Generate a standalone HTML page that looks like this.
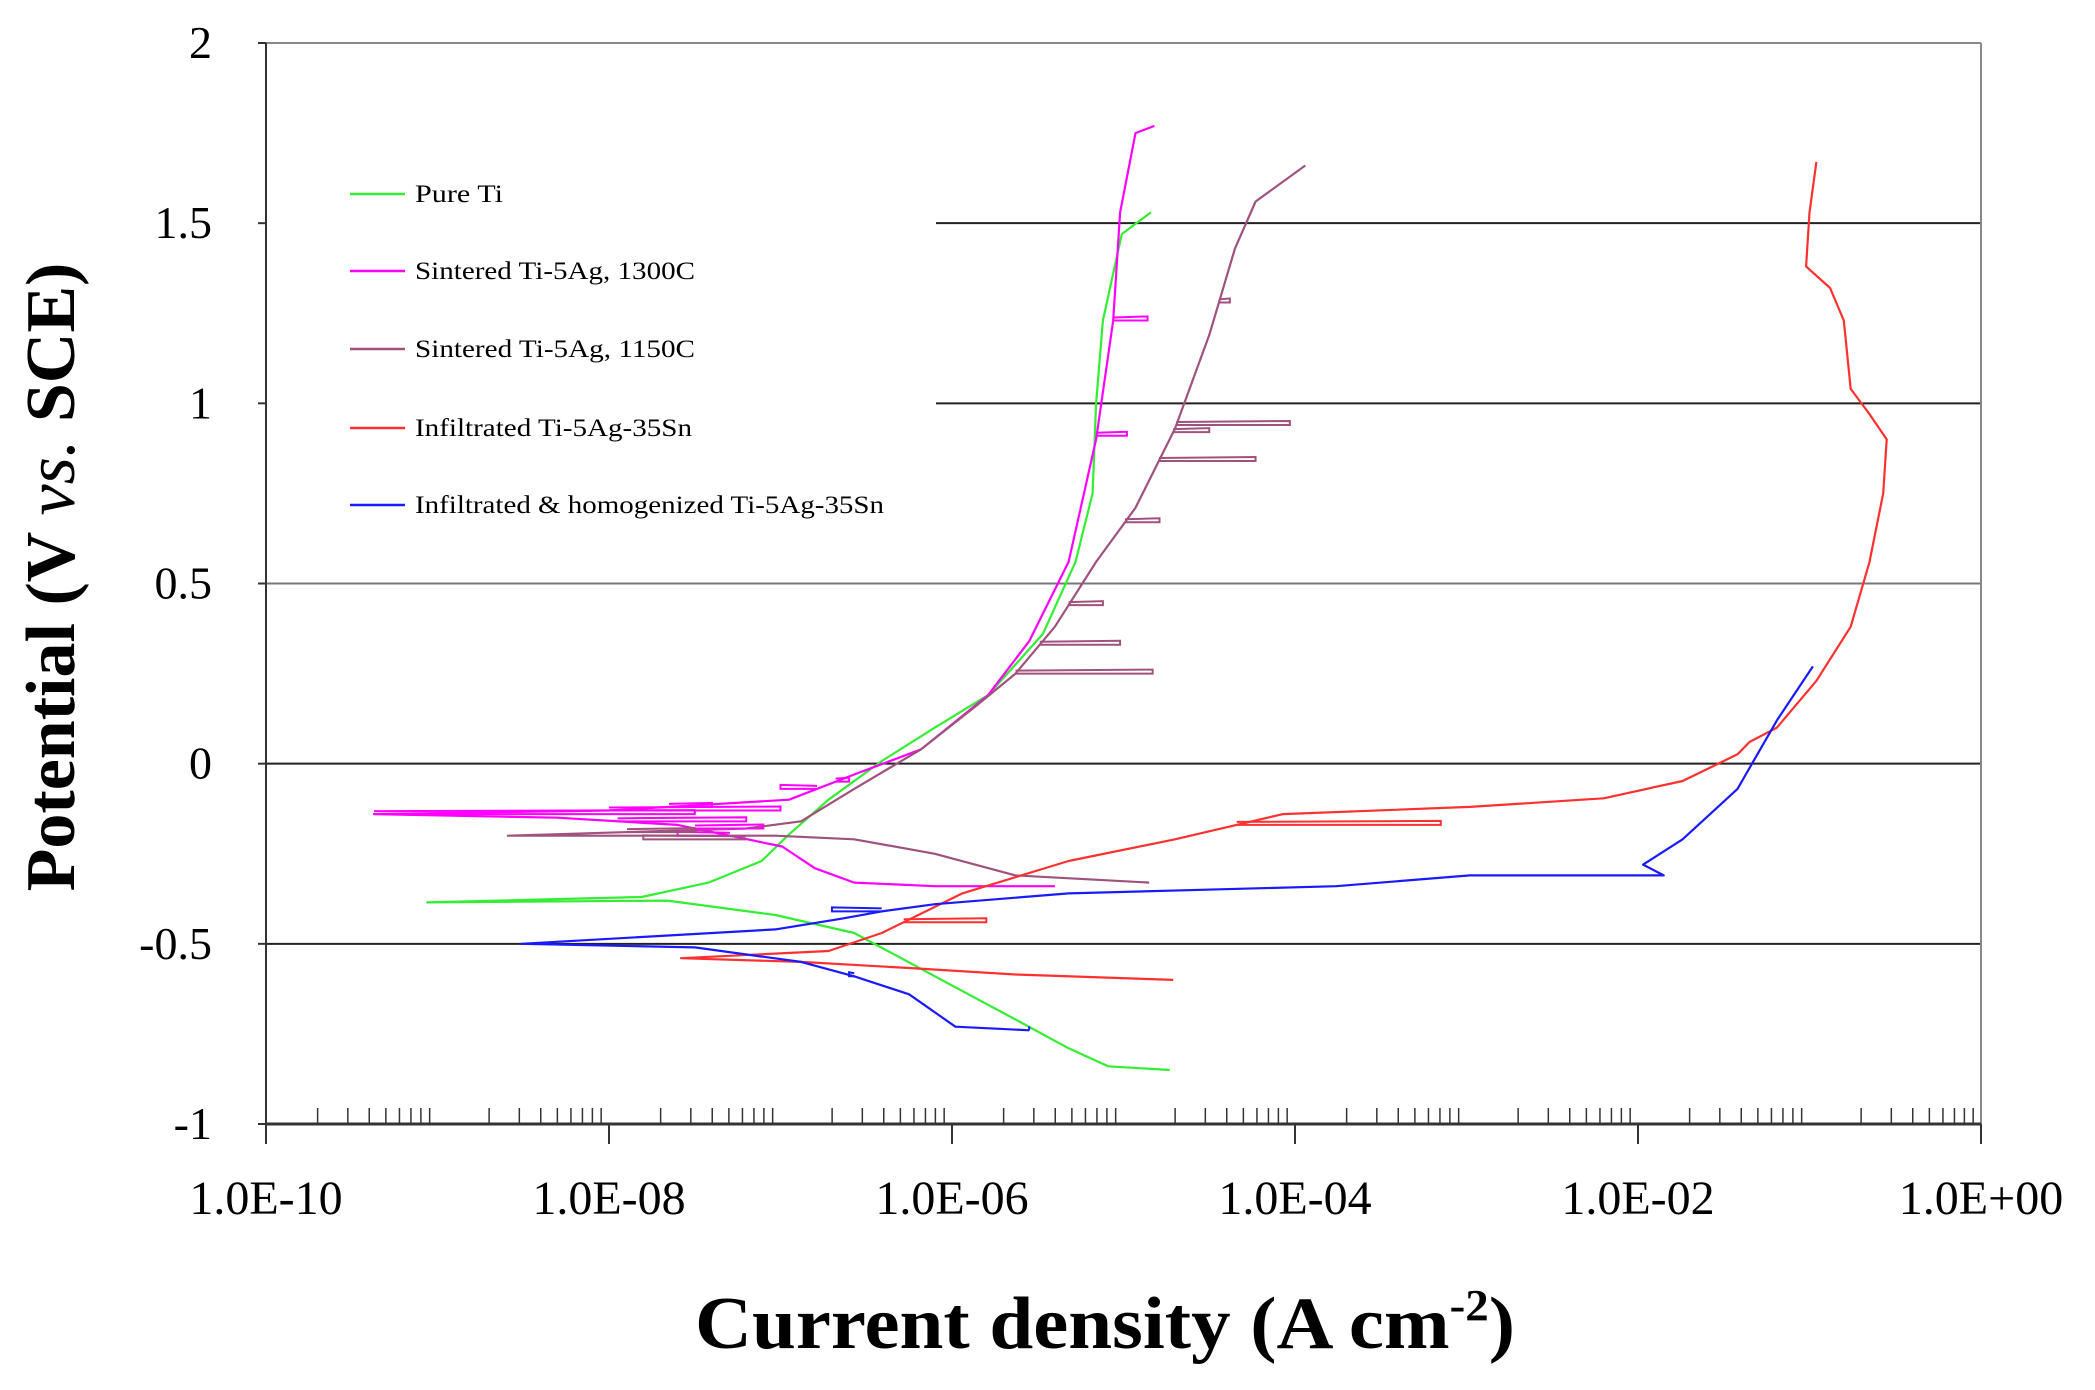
<!DOCTYPE html>
<html><head><meta charset="utf-8"><style>
html,body{margin:0;padding:0;background:#fff;}
svg{display:block;font-family:"Liberation Serif",serif;}
</style></head><body>
<svg id="chart" width="2095" height="1390" viewBox="0 0 2095 1390" xmlns="http://www.w3.org/2000/svg">
<rect width="2095" height="1390" fill="#fff"/>
<g id="grid"></g><g id="axes"></g><g id="series"></g><g id="legend"></g>
<text x="1105" y="1348" text-anchor="middle" font-size="74" font-weight="bold" textLength="820" lengthAdjust="spacingAndGlyphs">Current density (A cm<tspan font-size="44" dy="-28">-2</tspan><tspan dy="28">)</tspan></text>
<text transform="translate(74,577) rotate(-90)" text-anchor="middle" font-size="70" font-weight="bold">Potential (V <tspan font-style="italic" font-weight="normal">vs.</tspan> SCE)</text>
</svg>
<script>
const yTicks=[-1,-0.5,0,0.5,1,1.5,2];
const yTickLabels=["-1","-0.5","0","0.5","1","1.5","2"];
const xTicks=[-10,-8,-6,-4,-2,0];
const xTickLabels=["1.0E-10","1.0E-08","1.0E-06","1.0E-04","1.0E-02","1.0E+00"];
const seriesNames=["Pure Ti","Sintered Ti-5Ag, 1300C","Sintered Ti-5Ag, 1150C","Infiltrated Ti-5Ag-35Sn","Infiltrated & homogenized Ti-5Ag-35Sn"];
const pureTiLogI=[-4.73,-5.09,-5.32,-5.63,-6.10,-6.57,-7.03,-7.66,-9.06,-7.81,-7.42,-7.11,-6.95,-6.72,-6.41,-6.10,-5.79,-5.47,-5.28,-5.18,-5.16,-5.12,-5.01,-4.84];
const pureTiV=[-0.85,-0.84,-0.79,-0.71,-0.59,-0.47,-0.42,-0.38,-0.385,-0.37,-0.33,-0.27,-0.196,-0.10,0.007,0.10,0.19,0.36,0.56,0.75,1.0,1.23,1.47,1.53];
const s1300LogI=[-5.40,-6.10,-6.57,-6.80,-6.99,-7.6,-8.3,-9.37,-8.0,-6.95,-6.57,-6.18,-5.79,-5.55,-5.32,-5.16,-5.06,-5.02,-4.93,-4.82];
const s1300V=[-0.34,-0.34,-0.33,-0.29,-0.23,-0.17,-0.15,-0.14,-0.13,-0.10,-0.03,0.04,0.19,0.34,0.56,0.90,1.23,1.53,1.75,1.77];
const s1150LogI=[-4.85,-5.63,-6.10,-6.57,-7.03,-8.59,-7.2,-6.88,-6.57,-6.18,-5.86,-5.63,-5.40,-5.16,-4.93,-4.70,-4.50,-4.35,-4.23,-3.94];
const s1150V=[-0.33,-0.31,-0.25,-0.21,-0.20,-0.20,-0.18,-0.16,-0.07,0.04,0.16,0.25,0.38,0.56,0.71,0.93,1.19,1.43,1.56,1.66];
const infLogI=[-4.71,-5.63,-6.25,-6.88,-7.58,-6.72,-6.41,-5.94,-5.32,-4.70,-4.07,-2.98,-2.20,-1.74,-1.42,-1.35,-1.19,-0.96,-0.76,-0.65,-0.57,-0.55,-0.65,-0.76,-0.80,-0.88,-1.02,-1.00,-0.96];
const infV=[-0.60,-0.585,-0.567,-0.55,-0.54,-0.52,-0.47,-0.36,-0.27,-0.21,-0.14,-0.12,-0.096,-0.048,0.026,0.06,0.10,0.23,0.38,0.56,0.75,0.90,0.97,1.04,1.23,1.32,1.38,1.53,1.67];
const homLogI=[-5.55,-5.98,-6.25,-6.57,-6.88,-7.50,-8.51,-7.03,-6.64,-6.41,-6.10,-5.32,-3.76,-2.98,-1.85,-1.97,-1.74,-1.42,-1.19,-0.98];
const homV=[-0.74,-0.73,-0.64,-0.59,-0.55,-0.51,-0.50,-0.46,-0.43,-0.41,-0.39,-0.36,-0.34,-0.31,-0.31,-0.28,-0.21,-0.07,0.12,0.27];
const s1300SpikeV=[-0.14,-0.16,-0.18,-0.12,-0.07,-0.2,-0.13,-0.05,1.23,0.91];
const s1300SpikeLogI=[-7.5,-7.2,-7.1,-7.4,-7.0,-7.6,-7.0,-6.6,-4.86,-4.98];
const s1150SpikeV=[0.25,0.33,0.44,0.67,0.84,0.94,0.92,1.28,-0.19,-0.21];
const s1150SpikeLogI=[-4.83,-5.02,-5.12,-4.79,-4.23,-4.03,-4.5,-4.38,-7.5,-7.8];
const infSpikeV=[-0.17,-0.44];
const infSpikeLogI=[-3.15,-5.8];
const homSpikeV=[-0.74,-0.59,-0.41];
const homSpikeLogI=[-5.55,-6.6,-6.7];
const colors=["#33ee33","#ff00ff","#a0527e","#ff3030","#1a1aff"];

const L=266,R=1981,T=43,B=1124;
const xs=v=>L+(v+10)/10*(R-L);
const ys=v=>B-(v+1)/3*(B-T);
const NS="http://www.w3.org/2000/svg";
function mk(tag,parent,attrs){const e=document.createElementNS(NS,tag);for(const k in attrs)e.setAttribute(k,attrs[k]);document.getElementById(parent).appendChild(e);return e;}

[-0.5,0,0.5,1,1.5].forEach(v=>{
  const x0=(v>=1)?936:L;
  const g=mk('line','grid',{x1:x0,x2:R,y1:ys(v),y2:ys(v),stroke:(v==0.5?'#777':'#222'),'stroke-width':2});
  
  
});
mk('line','axes',{x1:L,x2:R,y1:T,y2:T,stroke:'#888','stroke-width':2});
mk('line','axes',{x1:R,x2:R,y1:T,y2:B,stroke:'#888','stroke-width':2});
const ya=mk('line','axes',{x1:L,x2:L,y1:T,y2:B+8,stroke:'#333','stroke-width':2});


const xa=mk('line','axes',{x1:L,x2:R,y1:B,y2:B,stroke:'#333','stroke-width':3});


yTicks.forEach((v,i)=>{
  mk('line','axes',{x1:L-8,x2:L,y1:ys(v),y2:ys(v),stroke:'#333','stroke-width':2});
  const t=mk('text','axes',{x:212,y:ys(v)+15,'text-anchor':'end','font-size':46});
  t.textContent=yTickLabels[i];
  
  
});
for(let d=-10;d<0;d++){for(let m=2;m<=9;m++){const x=xs(d+Math.log10(m));mk('line','axes',{x1:x,x2:x,y1:B-16,y2:B,stroke:'#333','stroke-width':1.5});}}
xTicks.forEach((v,i)=>{
  mk('line','axes',{x1:xs(v),x2:xs(v),y1:B,y2:B+20,stroke:'#333','stroke-width':2});
  const t=mk('text','axes',{x:xs(v),y:1214,'text-anchor':'middle','font-size':48});
  t.textContent=xTickLabels[i];
  
  
});
const allSeries=[[pureTiLogI,pureTiV],[s1300LogI,s1300V],[s1150LogI,s1150V],[infLogI,infV],[homLogI,homV]];
const slugs=["series-pure-ti","series-sintered-1300c","series-sintered-1150c","series-infiltrated","series-infiltrated-homogenized"];
allSeries.forEach((s,i)=>{
  const d=s[0].map((lx,j)=>(j?'L':'M')+xs(lx).toFixed(1)+' '+ys(s[1][j]).toFixed(1)).join(' ');
  const p=mk('path','series',{d:d,fill:'none',stroke:colors[i],'stroke-width':2.2,'stroke-linejoin':'round'});
  
  
});
// interpolate curve logI at potential v (search all segments, pick the one nearest target spike side)
function baseAt(lx,vv,v){
  let best=null;
  for(let j=0;j<lx.length-1;j++){
    const a=vv[j],b=vv[j+1];
    if((v-a)*(v-b)<=0&&a!==b){const x=lx[j]+(v-a)/(b-a)*(lx[j+1]-lx[j]);if(best===null||x>best)best=x;}
  }
  if(best===null){let k=0;for(let j=1;j<vv.length;j++)if(Math.abs(vv[j]-v)<Math.abs(vv[k]-v))k=j;best=lx[k];}
  return best;
}
function spikes(vArr,lArr,si,name){
  const s=allSeries[si];
  vArr.forEach((v,j)=>{
    let x0=baseAt(s[0],s[1],v);
    if(x0>lArr[j]){ // spike to left: use leftmost crossing
      x0=Math.min(x0,lArr[j]+0.6);
    }
    const sp=mk('path','series',{d:`M${xs(x0)} ${ys(v)} L${xs(lArr[j])} ${ys(v)} L${xs(lArr[j])} ${ys(v)-4} L${xs(x0)} ${ys(v)-3}`,fill:'none',stroke:colors[si],'stroke-width':2});
    
    
  });
}
spikes(s1300SpikeV,s1300SpikeLogI,1,'noise-spike-1300c');
spikes(s1150SpikeV,s1150SpikeLogI,2,'noise-spike-1150c');
spikes(infSpikeV,infSpikeLogI,3,'noise-spike-infiltrated');
spikes(homSpikeV,homSpikeLogI,4,'noise-spike-homogenized');
const legY=[194,271,349,428,505];
seriesNames.forEach((n,i)=>{
  const l=mk('line','legend',{x1:350,x2:405,y1:legY[i],y2:legY[i],stroke:colors[i],'stroke-width':2.5});
  
  
  const w=[88,280,280,277,469][i];
  const t=mk('text','legend',{x:415,y:legY[i]+8,'font-size':25,textLength:w,lengthAdjust:'spacingAndGlyphs'});
  t.textContent=n;
  
  
});
</script>
</body></html>
